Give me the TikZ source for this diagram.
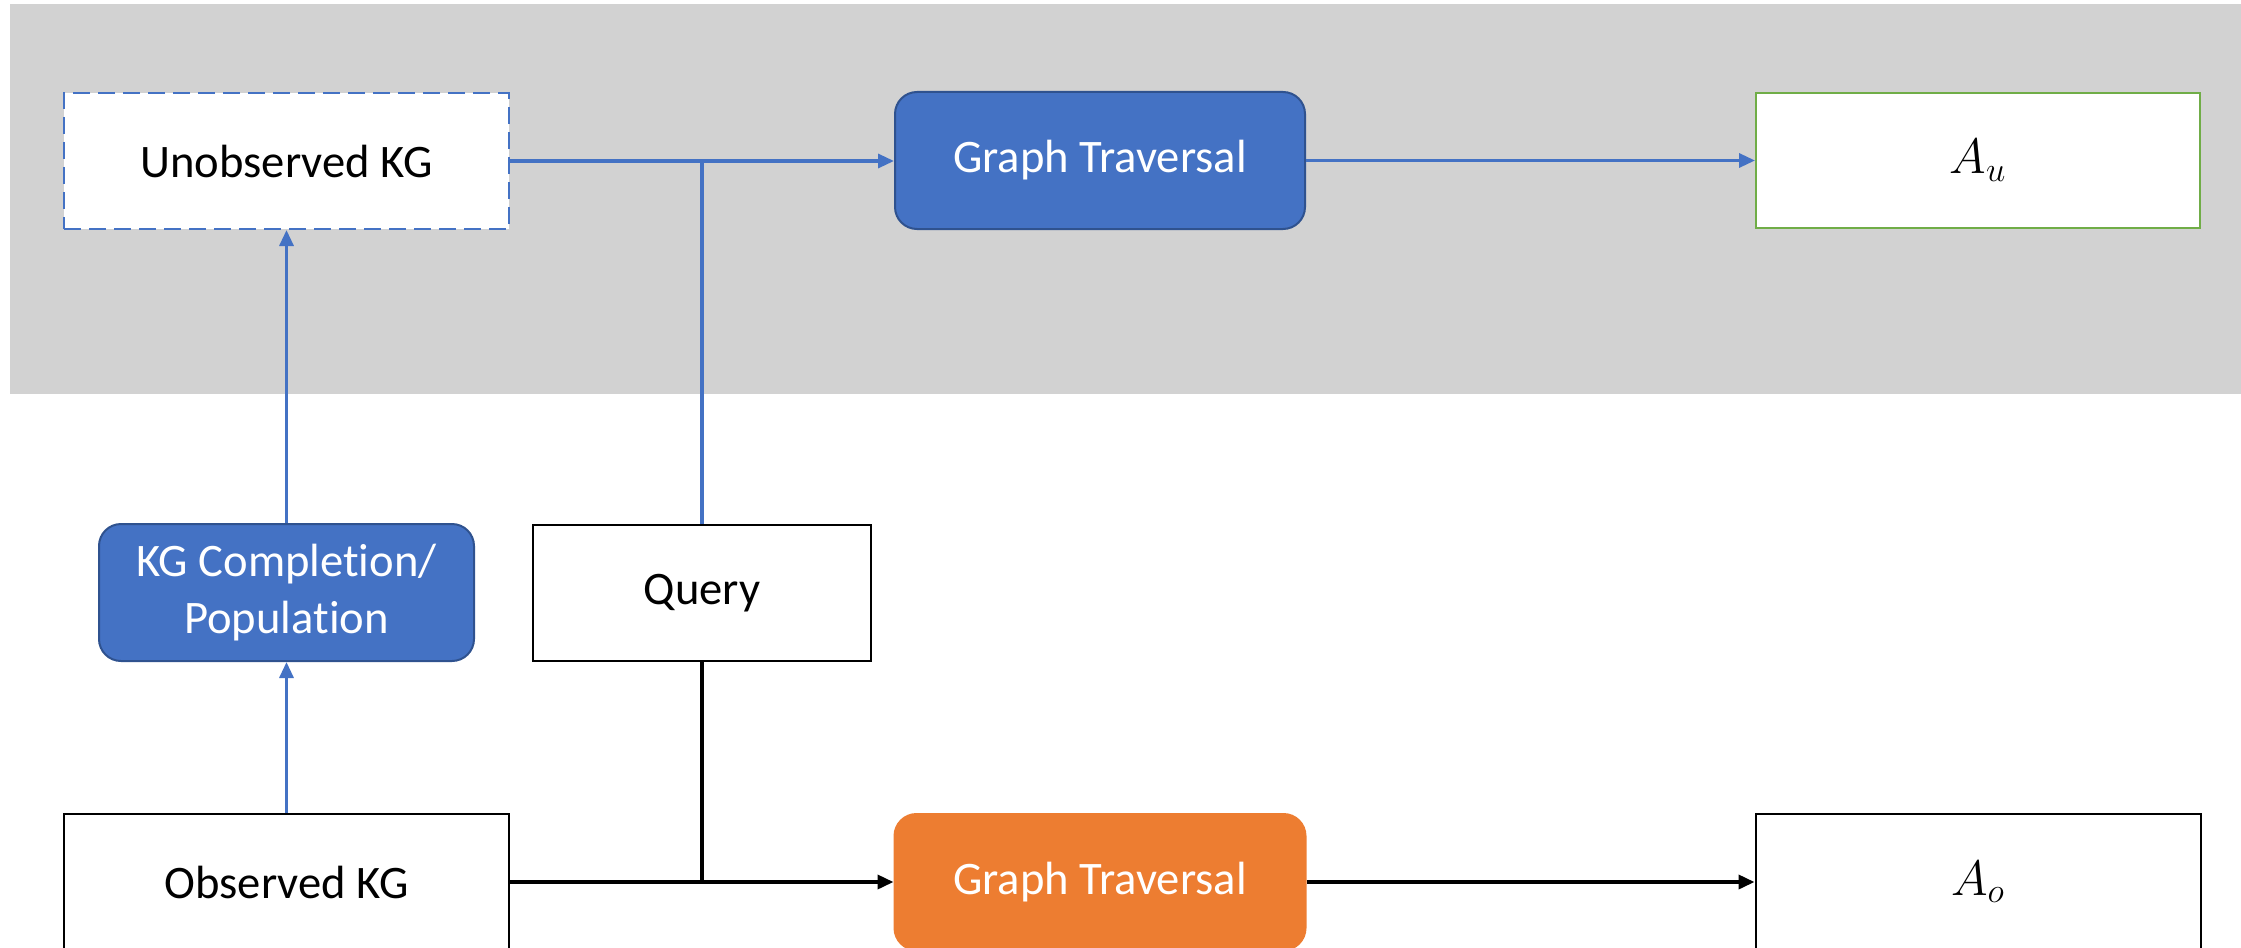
\documentclass[tikz,border=0pt]{standalone}
\usepackage{fontspec}
\setmainfont[Ligatures=NoCommon]{Carlito}
\usetikzlibrary{arrows.meta}
\definecolor{bandgrey}{RGB}{210,210,210}
\definecolor{kgblue}{RGB}{68,114,196}
\definecolor{kgbluedark}{RGB}{47,82,143}
\definecolor{kgorange}{RGB}{237,125,49}
\definecolor{kggreen}{RGB}{112,173,71}
\tikzset{
  box/.style={rectangle, inner sep=0pt, minimum width=222pt, minimum height=68pt,
    font=\fontsize{23.3}{28.5}\selectfont, align=center},
  plainbox/.style={box, draw=black, line width=0.9pt, fill=white},
  dashbox/.style={box, draw=kgblue, line width=1pt, dash pattern=on 8.5pt off 4pt, fill=white},
  bluebox/.style={box, draw=kgbluedark, line width=1pt, fill=kgblue, text=white, rounded corners=11pt},
  orangebox/.style={box, draw=kgorange, line width=1pt, fill=kgorange, text=white, rounded corners=11pt},
  answerbox/.style={box, line width=1pt, fill=white, font=\fontsize{27}{30}\selectfont},
  blueflow/.style={draw=kgblue, line width=1.6pt},
  blackflow/.style={draw=black, line width=1.8pt},
  tip/.style={-{Triangle[length=8pt,width=7pt]}}
}
\begin{document}
\begin{tikzpicture}[x=0.5pt,y=-0.5pt]
  \clip (0,0) rectangle (2241,947);
  % shaded region for the unobserved world
  \fill[bandgrey] (10,4) rectangle (2241,394);

  % top row
  \node[dashbox, minimum width=222.5pt] (unobs) at (286.5,161) {Unobserved KG};
  \node[bluebox, minimum width=205pt, minimum height=68.5pt] (gtu) at (1100,160.5) {Graph Traversal};
  \node[answerbox, draw=kggreen, minimum width=222pt, minimum height=67.5pt] (au) at (1978,160.5) {$A_u$};

  % middle row
  \node[bluebox, minimum width=187.5pt, minimum height=68.5pt] (kgc) at (286.5,592.5) {KG Completion/\\Population};
  \node[plainbox, minimum width=169pt, minimum height=68pt] (query) at (702,593) {Query};

  % bottom row
  \node[plainbox, minimum width=222.5pt] (obs) at (286.5,882) {Observed KG};
  \node[orangebox, minimum width=205.5pt] (gto) at (1100,882) {Graph Traversal};
  \node[answerbox, draw=black, minimum width=222.5pt] (ao) at (1978,882) {$A_o$};

  % unobserved pipeline
  \draw[blueflow, tip] (obs.north) -- (kgc.south);
  \draw[blueflow, tip] (kgc.north) -- (unobs.south);
  \draw[blueflow, tip] (unobs.east) -- (unobs.east -| gtu.west);
  \draw[blueflow] (query.north) -- (query.north |- unobs.east);
  \draw[blueflow, tip] (gtu.east) -- (gtu.east -| au.west);

  % observed pipeline
  \draw[blackflow, tip] (obs.east) -- (obs.east -| gto.west);
  \draw[blackflow] (query.south) -- (query.south |- obs.east);
  \draw[blackflow, tip] (gto.east) -- (gto.east -| ao.west);
\end{tikzpicture}
\end{document}
